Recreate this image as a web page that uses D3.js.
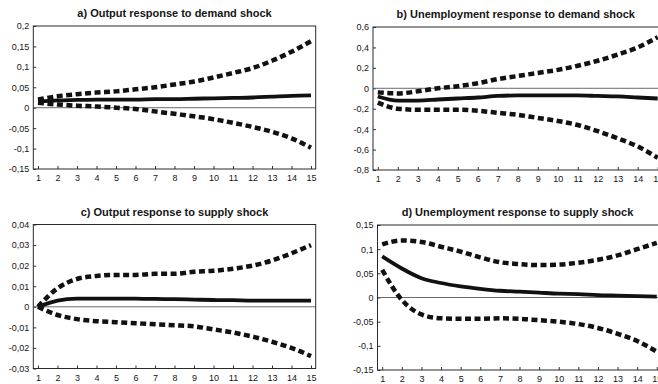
<!DOCTYPE html>
<html>
<head>
<meta charset="utf-8">
<script src="https://cdn.jsdelivr.net/npm/d3@7/dist/d3.min.js"></script>
<style>
body{margin:0;background:#fff}
svg{display:block}
text{font-family:"Liberation Sans",Arial,sans-serif;fill:#151515}
</style>
</head>
<body>
<svg id="chart" width="658" height="384"></svg>
<script>

/* horizon of the impulse responses */
var PERIODS = [1, 2, 3, 4, 5, 6, 7, 8, 9, 10, 11, 12, 13, 14, 15];

/* a) output response to demand shock */
var OUT_DEMAND_MID = [0.015, 0.018, 0.019, 0.020, 0.020, 0.020, 0.021, 0.021, 0.022, 0.023, 0.024, 0.025, 0.027, 0.029, 0.030];
var OUT_DEMAND_UP  = [0.020, 0.028, 0.033, 0.037, 0.040, 0.045, 0.050, 0.057, 0.064, 0.074, 0.085, 0.097, 0.115, 0.137, 0.163];
var OUT_DEMAND_LO  = [0.012, 0.008, 0.005, 0.003, 0.000, -0.003, -0.009, -0.015, -0.021, -0.028, -0.037, -0.047, -0.059, -0.075, -0.098];
var OUT_DEMAND_TICKS = [0.2, 0.15, 0.1, 0.05, 0, -0.05, -0.1, -0.15];

/* b) unemployment response to demand shock */
var UN_DEMAND_MID = [-0.08, -0.12, -0.12, -0.11, -0.10, -0.09, -0.075, -0.07, -0.07, -0.07, -0.07, -0.075, -0.08, -0.09, -0.10];
var UN_DEMAND_UP  = [-0.04, -0.05, -0.03, 0.00, 0.02, 0.05, 0.09, 0.12, 0.15, 0.18, 0.22, 0.27, 0.33, 0.40, 0.50];
var UN_DEMAND_LO  = [-0.14, -0.20, -0.21, -0.21, -0.21, -0.22, -0.24, -0.26, -0.29, -0.32, -0.36, -0.42, -0.49, -0.57, -0.68];
var UN_DEMAND_TICKS = [0.6, 0.4, 0.2, 0, -0.2, -0.4, -0.6, -0.8];

/* c) output response to supply shock */
var OUT_SUPPLY_MID = [0.000, 0.003, 0.004, 0.004, 0.004, 0.004, 0.0038, 0.0037, 0.0035, 0.0033, 0.0032, 0.003, 0.003, 0.003, 0.003];
var OUT_SUPPLY_UP  = [0.000, 0.009, 0.0135, 0.015, 0.0155, 0.0155, 0.016, 0.016, 0.017, 0.0175, 0.0185, 0.020, 0.0225, 0.026, 0.030];
var OUT_SUPPLY_LO  = [0.000, -0.004, -0.006, -0.007, -0.0075, -0.008, -0.0085, -0.009, -0.0095, -0.011, -0.0125, -0.0145, -0.017, -0.020, -0.024];
var OUT_SUPPLY_TICKS = [0.04, 0.03, 0.02, 0.01, 0, -0.01, -0.02, -0.03];

/* d) unemployment response to supply shock */
var UN_SUPPLY_MID = [0.085, 0.060, 0.040, 0.030, 0.023, 0.018, 0.014, 0.012, 0.010, 0.008, 0.007, 0.005, 0.004, 0.003, 0.002];
var UN_SUPPLY_UP  = [0.110, 0.118, 0.115, 0.105, 0.095, 0.083, 0.073, 0.069, 0.067, 0.068, 0.072, 0.078, 0.087, 0.100, 0.113];
var UN_SUPPLY_LO  = [0.057, -0.005, -0.035, -0.043, -0.044, -0.044, -0.043, -0.044, -0.047, -0.050, -0.055, -0.063, -0.075, -0.090, -0.112];
var UN_SUPPLY_TICKS = [0.15, 0.1, 0.05, 0, -0.05, -0.1, -0.15];

var panels = [
    {title: "a) Output response to demand shock", left: 33.3, right: 315.7, top: 26, bottom: 169,
     ticks: OUT_DEMAND_TICKS, mid: OUT_DEMAND_MID, up: OUT_DEMAND_UP, lo: OUT_DEMAND_LO},
    {title: "b) Unemployment response to demand shock", left: 373, right: 662.5, top: 27, bottom: 170,
     ticks: UN_DEMAND_TICKS, mid: UN_DEMAND_MID, up: UN_DEMAND_UP, lo: UN_DEMAND_LO},
    {title: "c) Output response to supply shock", left: 33.3, right: 315.7, top: 224.5, bottom: 368.5,
     ticks: OUT_SUPPLY_TICKS, mid: OUT_SUPPLY_MID, up: OUT_SUPPLY_UP, lo: OUT_SUPPLY_LO},
    {title: "d) Unemployment response to supply shock", left: 377.5, right: 661.5, top: 225, bottom: 370,
     ticks: UN_SUPPLY_TICKS, mid: UN_SUPPLY_MID, up: UN_SUPPLY_UP, lo: UN_SUPPLY_LO}
];

var svg = d3.select("#chart");

/* decimal comma, as in the original */
function commaFormat(v){
    return String(+v.toFixed(3)).replace(".", ",");
}

panels.forEach(drawPanel);

function drawPanel(p){
    var g = svg.append("g");

    var x = d3.scalePoint().domain(PERIODS).range([p.left, p.right]).padding(0.24);
    var y = d3.scaleLinear().domain(d3.extent(p.ticks)).range([p.bottom, p.top]);

    g.append("text")
        .attr("x", (p.left + p.right) / 2 - (p.right > 600 ? 2 : 0))
        .attr("y", p.top - 9)
        .attr("text-anchor", "middle")
        .style("font-size", "11px")
        .style("font-weight", "bold")
        .text(p.title);

    /* axes: small inward ticks */
    var xAxis = g.append("g")
        .attr("transform", "translate(0," + p.bottom + ")")
        .call(d3.axisBottom(x).tickSize(-3).tickPadding(6));
    var yAxis = g.append("g")
        .attr("transform", "translate(" + p.left + ",0)")
        .call(d3.axisLeft(y).tickValues(p.ticks).tickSize(-3).tickPadding(4).tickFormat(commaFormat));

    [xAxis, yAxis].forEach(function(a){
        a.select(".domain").remove();
        a.selectAll("line").attr("stroke", "#333");
        a.selectAll("text").style("font-size", "9px").attr("fill", "#151515");
    });

    /* zero line */
    g.append("line")
        .attr("x1", p.left).attr("x2", p.right)
        .attr("y1", y(0)).attr("y2", y(0))
        .attr("stroke", "#6a6a6a")
        .attr("stroke-width", 1);

    /* frame */
    g.append("rect")
        .attr("x", p.left).attr("y", p.top)
        .attr("width", p.right - p.left).attr("height", p.bottom - p.top)
        .attr("fill", "none")
        .attr("stroke", "#2a2a2a")
        .attr("stroke-width", 1);

    var line = d3.line()
        .curve(d3.curveMonotoneX)
        .x(function(d, i){ return x(PERIODS[i]); })
        .y(function(d){ return y(d); });

    [p.up, p.lo].forEach(function(series){
        g.append("path")
            .attr("d", line(series))
            .attr("fill", "none")
            .attr("stroke", "#111")
            .attr("stroke-width", 4.5)
            .attr("stroke-dasharray", "6,3.5");
    });

    g.append("path")
        .attr("d", line(p.mid))
        .attr("fill", "none")
        .attr("stroke", "#111")
        .attr("stroke-width", 3.8);
}
</script>
</body>
</html>
